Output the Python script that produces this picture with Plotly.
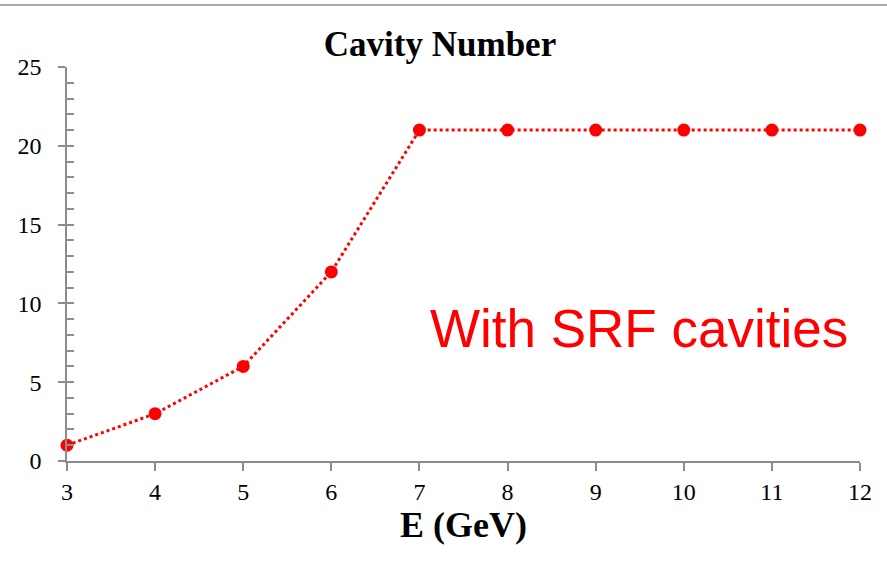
import plotly.graph_objects as go

energy_gev = [3, 4, 5, 6, 7, 8, 9, 10, 11, 12]
cavity_number = [1, 3, 6, 12, 21, 21, 21, 21, 21, 21]
x_ticks = [3, 4, 5, 6, 7, 8, 9, 10, 11, 12]
y_ticks = [0, 5, 10, 15, 20, 25]

W, H = 887, 561
L, R, T, B = 67, 27, 67, 100
pw, ph = W - L - R, H - T - B

serif = "Liberation Serif, Times New Roman, serif"
axis_col = "#8c8c8c"

fig = go.Figure()
fig.add_trace(go.Scatter(
    x=energy_gev, y=cavity_number, mode="lines+markers",
    line=dict(color="#ff0000", width=3, dash="dot"),
    marker=dict(color="#ff0000", size=13),
    cliponaxis=False, showlegend=False,
))
# invisible helper trace so the minor-tick axis is drawn
fig.add_trace(go.Scatter(x=[energy_gev[0]], y=[cavity_number[0]], yaxis="y2", mode="markers",
                         marker=dict(opacity=0), showlegend=False, hoverinfo="skip"))

fig.update_layout(
    width=W, height=H,
    margin=dict(l=L, r=R, t=T, b=B),
    paper_bgcolor="white", plot_bgcolor="white",
    title=dict(text="<b>Cavity Number</b>", xref="container", x=440 / W, xanchor="center",
               yref="container", y=1 - 44 / H, yanchor="middle",
               font=dict(family=serif, size=35, color="black")),
    xaxis=dict(range=[3, 12], tickvals=x_ticks, ticktext=[str(v) for v in x_ticks],
               showgrid=False, zeroline=False, showline=True, linecolor=axis_col, linewidth=1.5,
               ticks="outside", ticklen=8, tickcolor=axis_col, tickwidth=1.5,
               tickfont=dict(family=serif, size=24, color="black"),
               title=dict(text="<b>E (GeV)</b>", font=dict(family=serif, size=36, color="black"),
                          standoff=8)),
    yaxis=dict(range=[0, 25], tickvals=y_ticks, ticktext=[str(v) for v in y_ticks],
               showgrid=False, zeroline=False, showline=True, linecolor=axis_col, linewidth=1.5,
               ticks="outside", ticklen=7, tickcolor=axis_col, tickwidth=1.5,
               ticklabelstandoff=12,
               tickfont=dict(family=serif, size=24, color="black")),
    yaxis2=dict(range=[0, 25], overlaying="y", side="left", dtick=1, tick0=0,
                showgrid=False, zeroline=False, showline=False, showticklabels=False,
                ticks="inside", ticklen=7, tickcolor=axis_col, tickwidth=1.5),
)

fig.add_shape(type="line", xref="paper", yref="paper",
              x0=-L / pw, x1=1 + R / pw, y0=1 + (T - 5) / ph, y1=1 + (T - 5) / ph,
              line=dict(color=axis_col, width=1.5))

fig.add_annotation(text="With SRF cavities", xref="paper", yref="paper",
                   x=(639 - L) / pw, y=(461 - 328) / ph, xanchor="center", yanchor="middle",
                   showarrow=False, font=dict(family="Liberation Sans, Arial, sans-serif", size=53, color="#ff0000"))

fig.write_html("out.html")
